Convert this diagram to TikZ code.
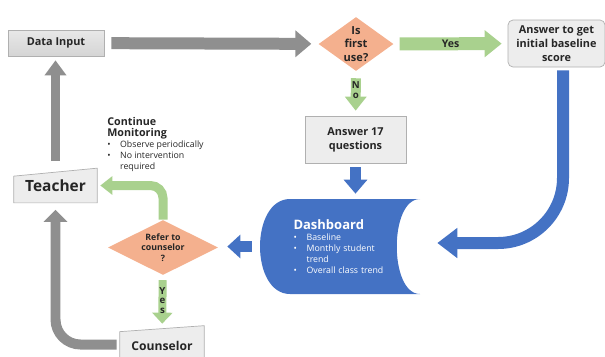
\documentclass[tikz,border=0pt]{standalone}
\usepackage{fontspec}
\setmainfont{Open Sans}
\usetikzlibrary{shapes.geometric,arrows.meta,backgrounds}
\definecolor{boxgray}{HTML}{EDEDED}
\definecolor{edgegray}{HTML}{B0B0B0}
\definecolor{arrgray}{HTML}{8F8F8F}
\definecolor{salmon}{HTML}{F4B08E}
\definecolor{leaf}{HTML}{A9D18E}
\definecolor{dashblue}{HTML}{4472C4}
\definecolor{ink}{HTML}{262626}

\begin{document}
\begin{tikzpicture}[x=0.02cm,y=-0.02cm,
    box/.style={rectangle,draw=edgegray,fill=boxgray,text=ink,align=center,inner sep=0pt,
        font=\bfseries\fontsize{6.2}{7.9}\selectfont},
    plate/.style={rectangle,text=ink,inner sep=0pt,font=\bfseries\fontsize{#1}{#1}\selectfont},
    decision/.style={diamond,fill=salmon,text=ink,align=center,inner sep=0pt,aspect=#1},
    fat/.style n args={3}{line width=#1,-{Triangle[width=#2,length=#3]}},
    lbl/.style={text=ink,align=center,font=\bfseries\fontsize{#1}{#1}\selectfont}]
        \useasboundingbox (0,0) rectangle (605,356);

        \node [box,top color=gray!18,bottom color=gray!33,minimum width=1.92cm,minimum height=0.52cm] (data) at (56,43) {Data Input};
        \node [decision=1.4,minimum width=1.5cm,minimum height=1.08cm,font=\bfseries\fontsize{6.3}{7.9}\selectfont] (first) at (356,44) {Is\\first\\use?};
        \node [box,rounded corners=0.1cm,minimum width=1.94cm,minimum height=0.94cm] (base) at (556.5,43.5) {Answer to get\\initial baseline\\score};
        \node [box,minimum width=2.02cm,minimum height=0.94cm] (q17) at (355.5,139.5) {Answer 17\\questions};

        % dashboard
        \node [text=white,align=left,text width=1.9cm,minimum width=3.16cm,minimum height=1.9cm,inner sep=0pt,
            font=\fontsize{5}{6.2}\selectfont] (dash) at (341,246.5)
            {{\bfseries\fontsize{7.4}{8.6}\selectfont Dashboard}\\
             \textbullet\hspace{5.6pt}Baseline\\
             \textbullet\hspace{5.6pt}Monthly student\\
             \hphantom{\textbullet}\hspace{5.6pt}trend\\
             \textbullet\hspace{5.6pt}Overall class trend};

        \node [decision=2,minimum width=2.2cm,minimum height=1.1cm,font=\bfseries\fontsize{5}{6}\selectfont] (refer) at (163,247.5) {Refer to\\counselor\\?};
        \node [plate=8.8,minimum width=1.66cm,minimum height=0.68cm] (teach) at (55.5,185.5) {Teacher};
        \node [plate=6.9,minimum width=1.68cm,minimum height=0.8cm] (couns) at (162,346) {Counselor};

        \node [anchor=north west,text=ink,align=left,inner sep=0pt,font=\fontsize{5}{6.2}\selectfont] (cont) at (107,117)
            {{\bfseries\fontsize{6.1}{6.8}\selectfont Continue}\\
             {\bfseries\fontsize{6.1}{6.8}\selectfont Monitoring}\\
             \textbullet\hspace{5.4pt}Observe periodically\\
             \textbullet\hspace{5.4pt}No intervention\\
             \hphantom{\textbullet}\hspace{5.4pt}required};

        \begin{scope}[on background layer]
            \fill [dashblue] (290,199) -- (420,199) .. controls (389,199) and (389,294) .. (420,294)
                -- (290,294) .. controls (250,294) and (250,199) .. (290,199) -- cycle;
            \filldraw [draw=edgegray,fill=boxgray] (teach.south west) -- ([yshift=-0.16cm]teach.north west)
                -- (teach.north east) -- (teach.south east) -- cycle;
            \filldraw [draw=edgegray,fill=boxgray] (couns.south west) -- ([yshift=-0.12cm]couns.north west)
                -- (couns.north east) -- (couns.south east) -- cycle;
        \end{scope}

        \draw [fat={0.24cm}{0.52cm}{0.32cm},arrgray,shorten <=0.14cm,shorten >=0.14cm] (data) -- (first);
        \draw [fat={0.26cm}{0.52cm}{0.34cm},leaf,shorten <=0.12cm,shorten >=0.12cm] (first) -- (base)
            node [midway,lbl=6] {Yes};
        \draw [fat={0.2cm}{0.42cm}{0.28cm},leaf,shorten <=0.14cm,shorten >=0.1cm] (first) -- (q17)
            node [pos=0.42,lbl=5.5] {N\\o};
        \draw [fat={0.22cm}{0.46cm}{0.28cm},dashblue,shorten <=0.08cm,shorten >=0.1cm] (q17.south) -- (q17.south |- dash.north);
        \draw [fat={0.24cm}{0.58cm}{0.4cm},dashblue,rounded corners=1.3cm,shorten <=0.06cm,shorten >=0.34cm]
            ([xshift=0.13cm]base.south) |- ([yshift=0.07cm]dash.east);
        \draw [fat={0.22cm}{0.46cm}{0.26cm},dashblue,shorten <=0.2cm,shorten >=0.18cm] (dash.west) -- (refer.east |- dash.west);
        \draw [fat={0.18cm}{0.36cm}{0.24cm},leaf,rounded corners=0.25cm,shorten >=0.06cm] (refer.north) |- (teach.east);
        \draw [fat={0.16cm}{0.4cm}{0.22cm},leaf,shorten <=0.1cm,shorten >=0.04cm] (refer) -- (couns)
            node [midway,lbl=5.5] {Y\\e\\s};
        \draw [fat={0.2cm}{0.46cm}{0.24cm},arrgray,rounded corners=0.5cm,shorten <=0.06cm,shorten >=0.14cm]
            ([yshift=0.03cm]couns.west) -| (teach.south);
        \draw [fat={0.18cm}{0.42cm}{0.3cm},arrgray,shorten <=0.14cm,shorten >=0.08cm] (teach.north) -- (teach.north |- data.south);

    \end{tikzpicture}
\end{document}
